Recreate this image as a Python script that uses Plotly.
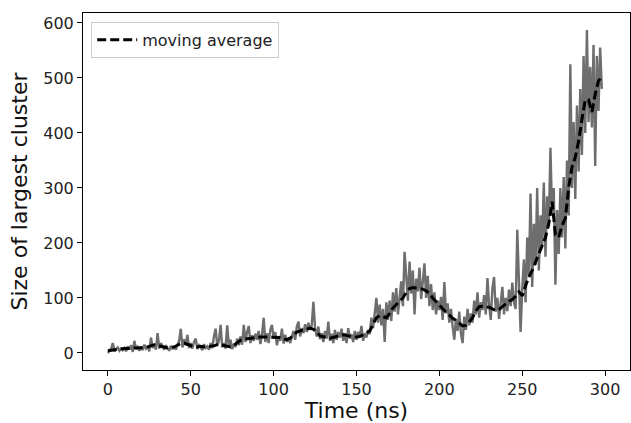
import numpy as np
import plotly.graph_objects as go

# Raw trace: size of largest cluster, one value per ns (t = 0 .. 298)
raw_size = [
    0, 4, 8, 18, 3, 7, 10, 4, 8, 5,
    9, 3, 12, 6, 14, 2, 22, 7, 11, 4,
    10, 5, 15, 8, 12, 3, 28, 9, 16, 6,
    36, 8, 18, 12, 6, 14, 9, 4, 13, 7,
    12, 6, 15, 22, 44, 10, 25, 14, 33, 9,
    18, 8, 20, 26, 7, 14, 10, 5, 16, 9,
    12, 6, 18, 9, 30, 44, 13, 22, 51, 10,
    18, 8, 50, 12, 24, 7, 16, 11, 26, 14,
    30, 15, 51, 20, 38, 49, 18, 32, 22, 35,
    24, 40, 16, 33, 64, 20, 36, 18, 42, 51,
    26, 38, 14, 30, 22, 44, 17, 33, 20, 28,
    18, 32, 40, 24, 48, 57, 30, 45, 36, 52,
    38, 55, 42, 50, 93, 46, 30, 48, 25, 36,
    20, 40, 26, 57, 22, 35, 18, 42, 24, 38,
    28, 44, 22, 36, 18, 45, 26, 34, 20, 40,
    24, 38, 30, 49, 22, 36, 28, 42, 34, 64,
    45, 72, 100, 55, 88, 50, 80, 20, 92, 60,
    95, 58, 110, 75, 118, 70, 98, 130, 85, 184,
    140, 95, 166, 108, 150, 70, 135, 112, 155, 98,
    130, 163, 100, 140, 85, 125, 78, 110, 70, 95,
    78, 102, 60, 129, 72, 90, 55, 80, 48, 24,
    62, 40, 75, 35, 18, 66, 42, 80, 50, 72,
    55, 95, 70, 110, 64, 92, 78, 105, 70, 136,
    88, 60, 118, 138, 75, 100, 62, 95, 120, 70,
    100, 76, 115, 85, 128, 92, 80, 224, 125, 38,
    118, 170, 92, 210, 140, 290, 120, 235, 160, 300,
    150, 250, 195, 310, 175, 285, 230, 373, 250, 300,
    124, 260, 180, 300, 210, 320, 190, 350, 250, 525,
    300, 420, 280, 450, 330, 480, 360, 540, 400, 587,
    420, 520, 410, 560, 340, 540, 440, 555, 480,
]
raw_time = np.arange(len(raw_size))  # ns

# Moving average, one value every 2 ns (t = 0 .. 298)
ma_size = [
    4, 5, 6, 6, 7, 8, 8, 9, 9, 9, 9,
    10, 11, 13, 15, 14, 12, 10, 9, 10, 11,
    14, 17, 18, 16, 13, 11, 11, 12, 11, 11,
    12, 13, 15, 15, 14, 12, 11, 14, 19, 23,
    25, 26, 27, 28, 28, 29, 29, 29, 29, 29,
    29, 28, 26, 24, 27, 33, 38, 40, 42, 44,
    45, 43, 38, 31, 29, 28, 27, 28, 30, 32,
    33, 32, 30, 29, 29, 30, 33, 36, 40, 52,
    64, 68, 66, 64, 72, 82, 88, 94, 100, 110,
    117, 119, 118, 117, 116, 113, 108, 100, 93, 86,
    80, 74, 69, 63, 59, 54, 49, 50, 56, 64,
    76, 84, 85, 84, 83, 80, 77, 79, 84, 88,
    94, 97, 103, 111, 104, 122, 138, 150, 165, 182,
    195, 210, 235, 275, 215, 210, 232, 245, 300, 338,
    356, 385, 425, 460, 460, 438, 470, 495, 502,
]
ma_time = np.arange(0, 2 * len(ma_size), 2)

x_ticks = [0, 50, 100, 150, 200, 250, 300]
y_ticks = [0, 100, 200, 300, 400, 500, 600]

fig = go.Figure()
fig.add_trace(go.Scatter(
    x=raw_time, y=raw_size, mode="lines",
    line=dict(color="#6e6e6e", width=2.4),
    showlegend=False, hoverinfo="skip",
))
fig.add_trace(go.Scatter(
    x=ma_time, y=ma_size, mode="lines", name="moving average",
    line=dict(color="black", width=3, dash="9px,4px"),
))

axis_common = dict(
    showgrid=False, zeroline=False, showline=True, linecolor="black",
    linewidth=1, mirror=True, ticks="outside", ticklen=5, tickwidth=1,
    tickcolor="black", tickfont=dict(size=16, color="#222"),
)
fig.update_xaxes(range=[-15, 315], tickvals=x_ticks,
                 title=dict(text="Time (ns)", font=dict(size=22, color="#111"), standoff=1),
                 **axis_common)
fig.update_yaxes(range=[-31, 618], tickvals=y_ticks,
                 title=dict(text="Size of largest cluster", font=dict(size=22, color="#111"), standoff=9),
                 **axis_common)

fig.update_layout(
    width=631, height=423,
    margin=dict(l=83, r=1, t=13, b=53),
    paper_bgcolor="white", plot_bgcolor="white",
    font=dict(family="DejaVu Sans", color="#222"),
    legend=dict(x=0.015, y=0.975, xanchor="left", yanchor="top",
                bgcolor="white", bordercolor="#cccccc", borderwidth=1,
                font=dict(size=16, color="#222"), itemwidth=40),
)

fig.write_html("out.html", config={"displayModeBar": False},
               post_script="document.body.style.margin='0';document.body.style.overflow='hidden';")
